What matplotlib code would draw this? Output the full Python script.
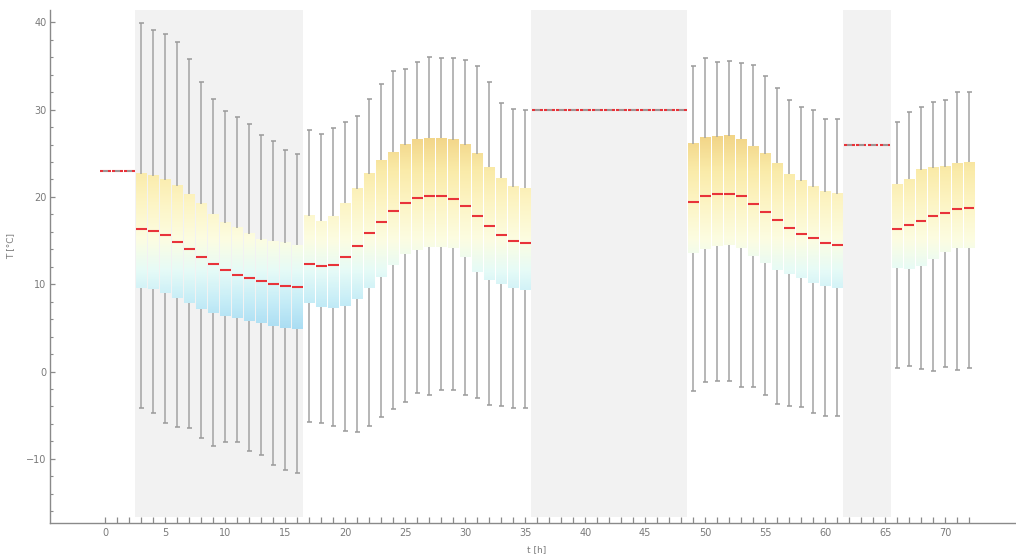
import numpy as np
import matplotlib
matplotlib.use("Agg")
import matplotlib.pyplot as plt
from matplotlib.colors import LinearSegmentedColormap, Normalize

# ---------------- data (hours 0..72) ----------------
hours = list(range(0, 73))

# segment 0-2 (constant)
seg0 = [23.0, 23.0, 23.0]

# segment 3-16
whi_a = [39.95, 39.1, 38.7, 37.8, 35.8, 33.2, 31.2, 29.8, 29.1, 28.35, 27.1, 26.4, 25.4, 24.9]
q3_a = [22.6, 22.4, 21.9, 21.25, 20.3, 19.15, 18.0, 17.05, 16.4, 15.75, 15.06, 14.9, 14.7, 14.45]
med_a = [16.29, 16.09, 15.6, 14.83, 14.03, 13.12, 12.31, 11.66, 11.05, 10.75, 10.4, 10.02, 9.79, 9.71]
q1_a = [9.53, 9.4, 8.95, 8.38, 7.88, 7.12, 6.66, 6.36, 6.09, 5.78, 5.52, 5.21, 4.95, 4.83]
wlo_a = [-4.22, -4.72, -5.86, -6.4, -6.5, -7.65, -8.53, -8.11, -8.11, -9.07, -9.56, -10.7, -11.3, -11.68]

# segment 17-35
whi_b = [27.66, 27.17, 27.86, 28.58, 29.23, 31.18, 32.9, 34.46, 34.69, 35.49, 36.06, 35.95, 35.95,
         35.68, 35.03, 33.2, 30.79, 30.03, 29.92]
q3_b = [17.81, 17.24, 17.81, 19.27, 20.9, 22.62, 24.23, 25.14, 25.95, 26.63, 26.75, 26.78, 26.55,
        25.95, 24.91, 23.39, 22.13, 21.17, 20.98]
med_b = [12.31, 12.08, 12.2, 13.12, 14.34, 15.83, 17.16, 18.42, 19.34, 19.91, 20.14, 20.14, 19.79,
         18.92, 17.78, 16.63, 15.6, 14.95, 14.76]
q1_b = [7.81, 7.42, 7.31, 7.5, 8.27, 9.53, 10.86, 12.2, 13.42, 13.92, 14.3, 14.3, 14.11,
        13.08, 11.36, 10.48, 10.02, 9.53, 9.34]
wlo_b = [-5.75, -5.93, -6.21, -6.78, -6.9, -6.21, -5.18, -4.3, -3.46, -2.43, -2.69, -2.12, -2.12,
         -2.69, -3.0, -3.84, -3.95, -4.15, -4.15]

# segment 36-48 (constant)
seg1 = [30.0] * 13

# segment 49-61
whi_c = [34.99, 35.88, 35.49, 35.6, 35.3, 35.07, 33.81, 32.44, 31.1, 30.26, 29.92, 28.92, 28.92]
q3_c = [26.06, 26.78, 26.9, 26.98, 26.6, 25.83, 24.91, 23.85, 22.62, 21.86, 21.17, 20.6, 20.3]
med_c = [19.45, 20.07, 20.37, 20.37, 20.07, 19.22, 18.3, 17.32, 16.4, 15.72, 15.26, 14.72, 14.49]
q1_c = [13.54, 14.03, 14.38, 14.49, 14.18, 13.26, 12.39, 11.63, 11.17, 10.74, 10.1, 9.83, 9.53]
wlo_c = [-2.23, -1.17, -1.09, -1.09, -1.81, -1.81, -2.69, -3.72, -3.95, -4.1, -4.79, -5.1, -5.1]

# segment 62-65 (constant)
seg2 = [26.0] * 4

# segment 66-72
whi_d = [28.55, 29.69, 30.26, 30.84, 31.1, 32.05, 32.05]
q3_d = [21.44, 22.02, 23.08, 23.28, 23.46, 23.85, 23.96]
med_d = [16.29, 16.75, 17.2, 17.78, 18.19, 18.58, 18.73]
q1_d = [11.82, 11.74, 12.08, 12.85, 13.72, 14.18, 14.18]
wlo_d = [0.37, 0.63, 0.29, 0.06, 0.48, 0.17, 0.37]

shaded_ranges = [(2.5, 16.5), (35.5, 48.5), (61.5, 65.5)]
x_labels = [0, 5, 10, 15, 20, 25, 30, 35, 40, 45, 50, 55, 60, 65, 70]
y_labels = [-10, 0, 10, 20, 30, 40]

whisker_hi = np.array(seg0 + whi_a + whi_b + seg1 + whi_c + seg2 + whi_d)
box_hi = np.array(seg0 + q3_a + q3_b + seg1 + q3_c + seg2 + q3_d)
median = np.array(seg0 + med_a + med_b + seg1 + med_c + seg2 + med_d)
box_lo = np.array(seg0 + q1_a + q1_b + seg1 + q1_c + seg2 + q1_d)
whisker_lo = np.array(seg0 + wlo_a + wlo_b + seg1 + wlo_c + seg2 + wlo_d)
x = np.array(hours, dtype=float)

# ---------------- style ----------------
W, H = 1016, 554
fig = plt.figure(figsize=(W / 100, H / 100), dpi=100)
ax = fig.add_axes([50 / W, (H - 522.7) / H, 966 / W, 512.7 / H])

GRAY = "#8a8a8a"
TXT = "#7a7a7a"

ylo, yhi = -17.32, 41.41
xlo, xhi = -4.61, 75.9

for a, b in shaded_ranges:
    ax.fill_between([a, b], -16.65, yhi, color="#f2f2f2", lw=0, zorder=0)

nodes = [(4, "#a3d9f2"), (8, "#c6edf7"), (11.5, "#e6fbf7"), (15, "#fcfde2"),
         (19, "#fdf5c6"), (23, "#faeba9"), (27.5, "#f1d283")]
vmin, vmax = nodes[0][0], nodes[-1][0]
cmap = LinearSegmentedColormap.from_list(
    "tgrad", [((v - vmin) / (vmax - vmin), c) for v, c in nodes])
norm = Normalize(vmin=vmin, vmax=vmax)

bw = 0.88
for xi, lo, hi in zip(x, box_lo, box_hi):
    if hi - lo > 1e-6:
        grad = np.linspace(lo, hi, 128).reshape(-1, 1)
        ax.imshow(grad, extent=[xi - bw / 2, xi + bw / 2, lo, hi], origin="lower",
                  cmap=cmap, norm=norm, aspect="auto", interpolation="bilinear", zorder=2)

# whiskers
ax.vlines(x, box_hi, whisker_hi, color="#a3a3a3", lw=1.1, zorder=3)
ax.vlines(x, whisker_lo, box_lo, color="#a3a3a3", lw=1.1, zorder=3)
cw = 0.42
# medians
ax.hlines(median, x - 0.44, x + 0.44, color="#e8333a", lw=1.5, zorder=4)
ax.hlines(whisker_hi, x - cw / 2, x + cw / 2, color="#9a9a9a", lw=1.1, zorder=5)
ax.hlines(whisker_lo, x - cw / 2, x + cw / 2, color="#9a9a9a", lw=1.1, zorder=5)

ax.set_xlim(xlo, xhi)
ax.set_ylim(ylo, yhi)

for s in ["top", "right"]:
    ax.spines[s].set_visible(False)
for s in ["left", "bottom"]:
    ax.spines[s].set_color(GRAY)
    ax.spines[s].set_linewidth(1.0)

ax.set_xticks(hours)
ax.set_xticklabels([str(h) if h in x_labels else "" for h in hours])
ax.set_yticks(y_labels)
ax.set_yticks(np.arange(-16, 41, 2), minor=True)
ax.tick_params(axis="x", direction="in", length=4.5, width=0.9, color=GRAY,
               labelcolor=TXT, labelsize=7, pad=4)
ax.tick_params(axis="y", which="major", direction="in", length=3.8, width=0.9, color=GRAY,
               labelcolor=TXT, labelsize=7, pad=2.5)
ax.tick_params(axis="y", which="minor", direction="in", length=2.2, width=0.8, color=GRAY)

ax.set_ylabel("T [°C]", color=TXT, fontsize=6.5)
ax.yaxis.set_label_coords(-0.036, 0.54)
fig.text(537 / W, 1 - 550 / H, "t [h]", color=TXT, fontsize=6.5, ha="center", va="center")

fig.savefig("out.png", dpi=100)
